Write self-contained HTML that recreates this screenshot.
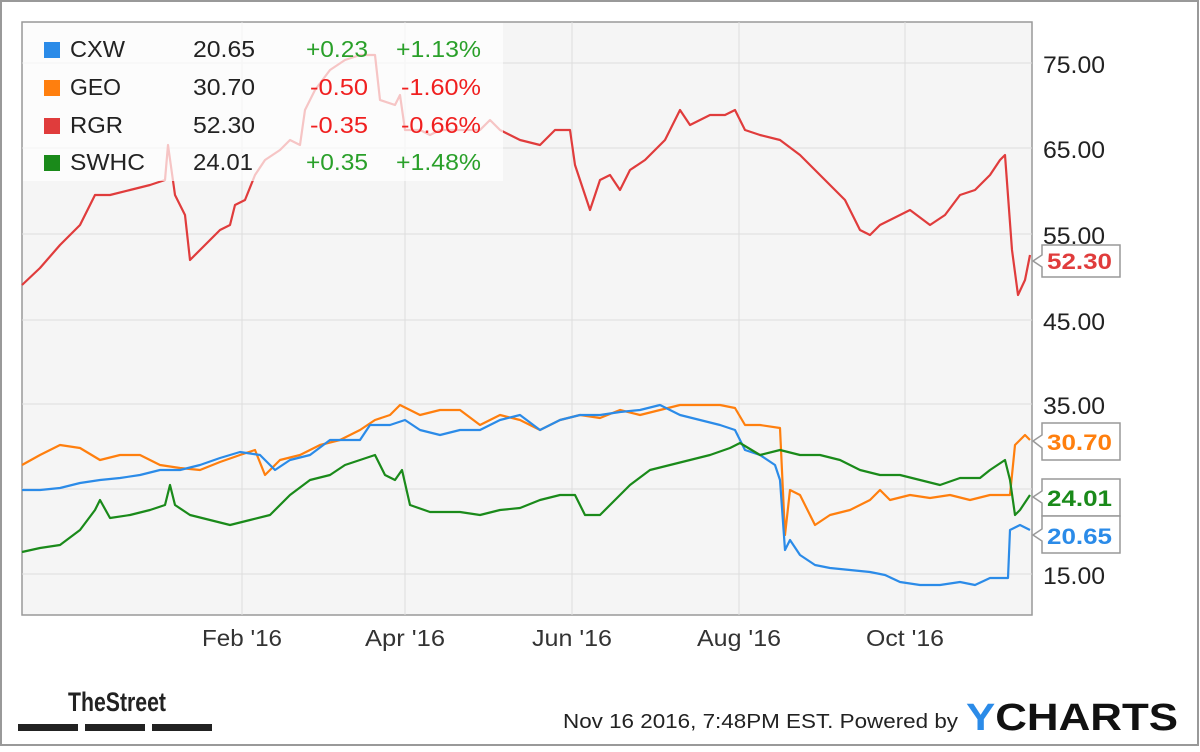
<!DOCTYPE html>
<html><head><meta charset="utf-8"><style>
body{margin:0;width:1200px;height:747px;overflow:hidden;background:#fff;font-family:"Liberation Sans",sans-serif}
</style></head><body>
<svg width="1200" height="747" viewBox="0 0 1200 747" xmlns="http://www.w3.org/2000/svg" font-family="Liberation Sans, sans-serif">
<rect x="1" y="1" width="1197" height="744" fill="#fff" stroke="#999" stroke-width="2"/>
<rect x="22" y="22" width="1010" height="593" fill="#f5f5f5" stroke="#999" stroke-width="1.5"/>
<g stroke="#ddd" stroke-width="1">
<line x1="22" y1="63" x2="1032" y2="63"/><line x1="22" y1="148" x2="1032" y2="148"/><line x1="22" y1="234" x2="1032" y2="234"/><line x1="22" y1="320" x2="1032" y2="320"/><line x1="22" y1="404" x2="1032" y2="404"/><line x1="22" y1="489" x2="1032" y2="489"/><line x1="22" y1="574" x2="1032" y2="574"/>
<line x1="242" y1="22" x2="242" y2="615"/><line x1="405" y1="22" x2="405" y2="615"/><line x1="572" y1="22" x2="572" y2="615"/><line x1="739" y1="22" x2="739" y2="615"/><line x1="905" y1="22" x2="905" y2="615"/>
</g>
<g fill="none" stroke-width="2.2" stroke-linejoin="round">
<polyline stroke="#e03c3c" points="22,285 40,268 60,245 80,225 95,195 110,195 130,190 150,185 165,180 168,145 175,195 185,215 190,260 200,250 210,240 220,230 230,225 235,205 245,200 255,175 265,160 280,150 290,140 300,145 305,110 315,90 330,70 345,60 360,55 375,55 380,100 395,105 400,95 405,130 420,130 430,135 440,130 460,130 480,130 490,120 500,130 520,140 540,145 555,130 570,130 575,165 590,210 600,180 610,175 620,190 630,170 645,160 655,150 665,140 680,110 690,125 710,115 725,115 735,110 745,130 760,135 780,140 800,155 815,170 830,185 845,200 860,230 870,235 880,225 900,215 910,210 930,225 945,215 960,195 975,190 990,175 1000,160 1005,155 1012,250 1018,295 1025,280 1030,255"/>
<polyline stroke="#ff7f0e" points="22,465 40,455 60,445 80,448 100,460 120,455 140,455 160,465 180,468 200,470 220,462 240,455 255,450 265,475 280,460 300,455 320,445 340,440 360,430 375,420 390,415 400,405 420,415 440,410 460,410 480,425 500,415 520,420 540,430 560,420 580,415 600,418 620,410 640,415 660,410 680,405 700,405 720,405 735,408 745,425 760,425 780,428 785,535 790,490 800,495 815,525 830,515 850,510 870,500 880,490 890,500 910,495 930,498 950,495 970,500 990,495 1010,495 1015,445 1025,435 1030,440"/>
<polyline stroke="#2b8be8" points="22,490 40,490 60,488 80,483 100,480 120,478 140,475 160,470 180,470 200,465 220,458 240,452 260,455 275,470 290,460 310,455 330,440 350,440 360,440 370,425 390,425 405,420 420,430 440,435 460,430 480,430 500,420 520,415 540,430 560,420 580,415 600,415 620,412 640,410 660,405 680,415 700,420 720,425 735,430 745,450 760,455 775,465 780,480 785,550 790,540 800,555 815,565 830,568 850,570 870,572 885,575 900,582 920,585 940,585 960,582 975,585 990,578 1008,578 1010,530 1020,525 1030,530"/>
<polyline stroke="#1a8a1a" points="22,552 40,548 60,545 80,530 95,510 100,500 110,518 130,515 150,510 165,505 170,485 175,505 190,515 210,520 230,525 250,520 270,515 290,495 310,480 330,475 345,465 360,460 375,455 385,475 395,480 402,470 410,505 430,512 460,512 480,515 500,510 520,508 540,500 560,495 575,495 585,515 600,515 615,500 630,485 650,470 670,465 690,460 710,455 730,448 740,443 760,455 780,450 800,455 820,455 840,460 860,470 880,475 900,475 920,480 940,485 960,478 980,478 990,470 1005,460 1010,480 1015,515 1020,510 1030,495"/>
</g>
<rect x="23" y="23" width="480" height="158" fill="#fff" opacity="0.7"/>
<rect x="44" y="42" width="16" height="16" fill="#2b8be8"/><rect x="44" y="80" width="16" height="16" fill="#ff7f0e"/><rect x="44" y="118" width="16" height="16" fill="#e03c3c"/><rect x="44" y="155" width="16" height="16" fill="#1a8a1a"/>
<g font-size="23">
<g fill="#222"><text x="70" y="57" textLength="55" lengthAdjust="spacingAndGlyphs">CXW</text><text x="70" y="95" textLength="51" lengthAdjust="spacingAndGlyphs">GEO</text><text x="70" y="133" textLength="53" lengthAdjust="spacingAndGlyphs">RGR</text><text x="70" y="170" textLength="75" lengthAdjust="spacingAndGlyphs">SWHC</text>
<text x="193" y="57" textLength="62" lengthAdjust="spacingAndGlyphs">20.65</text><text x="193" y="95" textLength="62" lengthAdjust="spacingAndGlyphs">30.70</text><text x="193" y="133" textLength="62" lengthAdjust="spacingAndGlyphs">52.30</text><text x="193" y="170" textLength="60" lengthAdjust="spacingAndGlyphs">24.01</text></g>
<text x="306" y="57" fill="#2aa02a" textLength="62" lengthAdjust="spacingAndGlyphs">+0.23</text><text x="310" y="95" fill="#f02020" textLength="58" lengthAdjust="spacingAndGlyphs">-0.50</text><text x="310" y="133" fill="#f02020" textLength="58" lengthAdjust="spacingAndGlyphs">-0.35</text><text x="306" y="170" fill="#2aa02a" textLength="62" lengthAdjust="spacingAndGlyphs">+0.35</text>
<text x="396" y="57" fill="#2aa02a" textLength="85" lengthAdjust="spacingAndGlyphs">+1.13%</text><text x="401" y="95" fill="#f02020" textLength="80" lengthAdjust="spacingAndGlyphs">-1.60%</text><text x="401" y="133" fill="#f02020" textLength="80" lengthAdjust="spacingAndGlyphs">-0.66%</text><text x="396" y="170" fill="#2aa02a" textLength="85" lengthAdjust="spacingAndGlyphs">+1.48%</text>
</g>
<g font-size="24" fill="#222"><text x="1043" y="73" textLength="62" lengthAdjust="spacingAndGlyphs">75.00</text><text x="1043" y="158" textLength="62" lengthAdjust="spacingAndGlyphs">65.00</text><text x="1043" y="244" textLength="62" lengthAdjust="spacingAndGlyphs">55.00</text><text x="1043" y="330" textLength="62" lengthAdjust="spacingAndGlyphs">45.00</text><text x="1043" y="414" textLength="62" lengthAdjust="spacingAndGlyphs">35.00</text><text x="1043" y="584" textLength="62" lengthAdjust="spacingAndGlyphs">15.00</text></g>
<g font-size="23" fill="#333"><text x="202" y="646" textLength="80" lengthAdjust="spacingAndGlyphs">Feb '16</text><text x="365" y="646" textLength="80" lengthAdjust="spacingAndGlyphs">Apr '16</text><text x="532" y="646" textLength="80" lengthAdjust="spacingAndGlyphs">Jun '16</text><text x="697" y="646" textLength="84" lengthAdjust="spacingAndGlyphs">Aug '16</text><text x="866" y="646" textLength="78" lengthAdjust="spacingAndGlyphs">Oct '16</text></g>
<g stroke="#999" stroke-width="1.5" fill="#fff">
<path d="M1042,245 H1120 V277 H1042 V267 L1033,261 L1042,255 Z"/>
<path d="M1042,423 H1120 V460 H1042 V448 L1033,441 L1042,435 Z"/>
<path d="M1042,479 H1120 V516 H1042 V503 L1033,497 L1042,491 Z"/>
<path d="M1042,516 H1120 V553 H1042 V541 L1033,535 L1042,529 Z"/>
</g>
<g font-size="22" font-weight="bold"><text x="1047" y="269" fill="#e03c3c" textLength="65" lengthAdjust="spacingAndGlyphs">52.30</text><text x="1047" y="450" fill="#ff7f0e" textLength="65" lengthAdjust="spacingAndGlyphs">30.70</text><text x="1047" y="506" fill="#1a8a1a" textLength="65" lengthAdjust="spacingAndGlyphs">24.01</text><text x="1047" y="544" fill="#2b8be8" textLength="65" lengthAdjust="spacingAndGlyphs">20.65</text></g>
<text x="68" y="711" font-size="27" font-weight="bold" fill="#222" textLength="98" lengthAdjust="spacingAndGlyphs">TheStreet</text>
<g fill="#222"><rect x="18" y="724" width="60" height="7"/><rect x="85" y="724" width="60" height="7"/><rect x="152" y="724" width="60" height="7"/></g>
<text x="563" y="728" font-size="20" fill="#222" textLength="395" lengthAdjust="spacingAndGlyphs">Nov 16 2016, 7:48PM EST.  Powered by</text>
<text x="966" y="730" font-size="38" font-weight="bold" fill="#111" textLength="212" lengthAdjust="spacingAndGlyphs"><tspan fill="#2b8be8">Y</tspan>CHARTS</text>
</svg>
</body></html>
